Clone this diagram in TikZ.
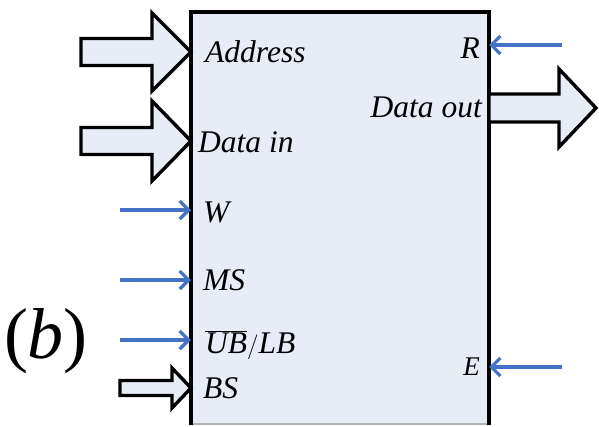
\documentclass[tikz,border=0pt]{standalone}
\usepackage{fontspec}
\setmainfont{Liberation Serif}
\usetikzlibrary{arrows.meta}
\definecolor{boxfill}{HTML}{E8ECF7}
\definecolor{sigblue}{HTML}{4472C4}
\begin{document}
\begin{tikzpicture}[x=1pt,y=-1pt,
  lbl/.style={font=\fontsize{31.5}{31.5}\selectfont\itshape, inner sep=0pt, anchor=base west},
  rlbl/.style={lbl, anchor=base east},
  sig/.style={draw=sigblue, line width=3.3pt, -{Straight Barb[length=9pt,width=18pt,line width=3.3pt]}},
  fat/.style={draw=black, fill=boxfill, line width=3.4pt, line join=miter}]
\useasboundingbox (0,0) rectangle (599,426);
% main box
\fill[boxfill] (191,12) rectangle (489,424);
\draw[gray!60, line width=1.2pt] (191,424) -- (489,424);
\draw[black, line width=3.6pt] (191,425) -- (191,12) -- (489,12) -- (489,425);
% labels
\node[lbl] (addr) at (205,62) {Address};
\node[lbl] (din) at (198,152) {Data in};
\node[lbl] (w) at (203,222) {W};
\node[lbl] (ms) at (203,290) {MS};
\node[lbl] (ublb) at (205,353) {$\overline{\mathit{UB}}\big/\mathit{LB}$};
\node[lbl] (bs) at (203,398) {BS};
\node[rlbl] (r) at (480,58) {R};
\node[rlbl] (dout) at (482,117) {Data out};
\node[rlbl, font=\fontsize{27}{27}\selectfont\itshape] (e) at (480,375) {E};
\node[inner sep=0pt, anchor=base, font=\fontsize{72}{72}\selectfont] (b) at (46,358) {(\textit{b})};
% pin coordinates on the box border
\coordinate (paddr) at (191,52);
\coordinate (pdin) at (191,141);
\coordinate (pw) at (191,210);
\coordinate (pms) at (191,280);
\coordinate (publb) at (191,340);
\coordinate (pbs) at (191,388);
\coordinate (pr) at (489,45);
\coordinate (pdout) at (489,108);
\coordinate (pe) at (489,367);
% thin signal arrows
\coordinate (sw) at (120,210);
\coordinate (sms) at (120,280);
\coordinate (subl) at (120,340);
\coordinate (sr) at (562,45);
\coordinate (se) at (562,367);
\draw[sig] (sw) -- (pw);
\draw[sig] (sms) -- (pms);
\draw[sig] (subl) -- (publb);
\draw[sig] (sr) -- (pr);
\draw[sig] (se) -- (pe);
% fat bus arrows
\draw[fat] (paddr) -- ++(-39,-39) -- ++(0,25.5) -- ++(-71,0) -- ++(0,27) -- ++(71,0) -- ++(0,25.5) -- cycle;
\draw[fat] (pdin) -- ++(-39,-40) -- ++(0,26.5) -- ++(-71,0) -- ++(0,27) -- ++(71,0) -- ++(0,26.5) -- cycle;
\draw[fat] (pdout) ++(107,0) coordinate (tdout) -- ++(-37,-39) -- ++(0,25) -- ++(-70,0) -- ++(0,28) -- ++(70,0) -- ++(0,25) -- cycle;
\draw[fat] (pbs) -- ++(-19,-20) -- ++(0,12.5) -- ++(-52,0) -- ++(0,15) -- ++(52,0) -- ++(0,12.5) -- cycle;
\end{tikzpicture}
\end{document}
